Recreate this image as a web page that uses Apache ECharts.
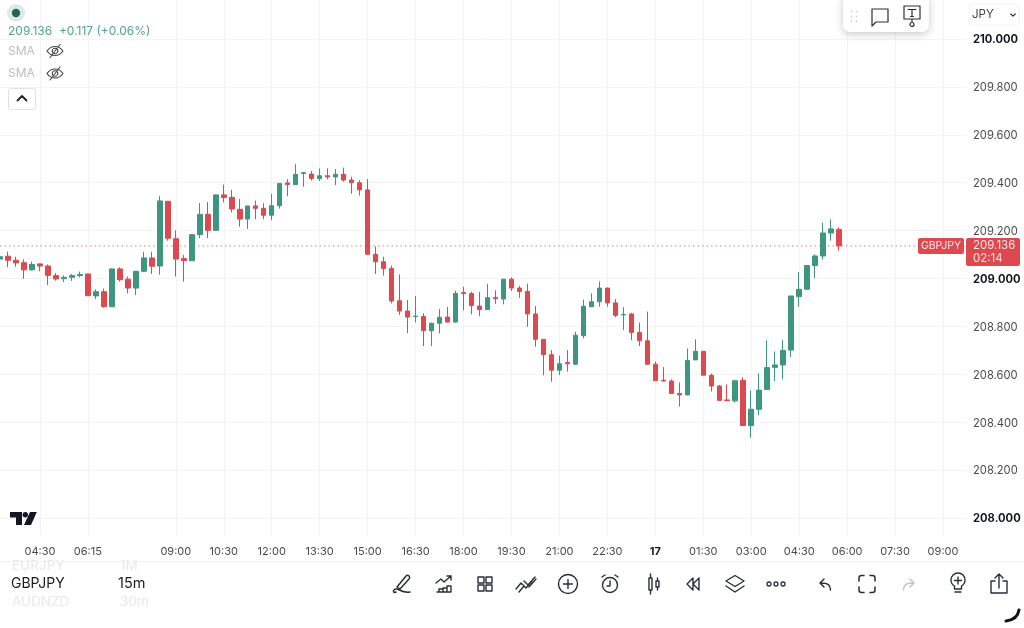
<!DOCTYPE html>
<html><head><meta charset="utf-8">
<style>html,body{margin:0;padding:0;background:#fff}#c{width:1024px;height:628px}</style>
<script src="https://cdn.jsdelivr.net/npm/echarts@6/dist/echarts.min.js"></script>
</head><body><div id="c"></div>
<script>
const categories=["03:15","03:30","03:45","04:00","04:15","04:30","04:45","05:00","05:15","05:30","06:00","06:15","06:30","06:45","07:00","07:15","07:30","07:45","08:00","08:15","08:30","08:45","09:00","09:15","09:30","09:45","10:00","10:15","10:30","10:45","11:00","11:15","11:30","11:45","12:00","12:15","12:30","12:45","13:00","13:15","13:30","13:45","14:00","14:15","14:30","14:45","15:00","15:15","15:30","15:45","16:00","16:15","16:30","16:45","17:00","17:15","17:30","17:45","18:00","18:15","18:30","18:45","19:00","19:15","19:30","19:45","20:00","20:15","20:30","20:45","21:00","21:15","21:30","21:45","22:00","22:15","22:30","22:45","23:00","23:15","23:30","23:45","17","00:15","00:30","00:45","01:00","01:15","01:30","01:45","02:00","02:15","02:30","02:45","03:00","03:15","03:30","03:45","04:00","04:15","04:30","04:45","05:00","05:15","05:30","05:45","06:00","06:15","06:30","06:45","07:00","07:15","07:30","07:45","08:00","08:15","08:30","08:45","09:00","09:15","09:30","09:45"];
const tickIndexes=[5,11,22,28,34,40,46,52,58,64,70,76,82,88,94,100,106,112,118];
const priceTicks=[208,208.2,208.4,208.6,208.8,209,209.2,209.4,209.6,209.8,210];
const majorTicks=[208,209,210];
const lastPrice=209.136;
const opens=[209.081,209.093,209.076,209.066,209.036,209.061,209.052,209.012,208.999,209.005,209.012,
209.019,208.927,208.945,208.882,209.040,208.997,208.960,209.030,209.086,209.052,
209.322,209.166,209.083,209.074,209.183,209.268,209.201,209.349,209.339,209.289,
209.248,209.303,209.293,209.264,209.304,209.399,209.392,209.438,209.436,209.417,
209.429,209.424,209.435,209.411,209.400,209.370,209.101,209.070,209.042,208.907,
208.864,208.841,208.841,208.782,208.813,208.839,208.818,208.941,208.937,208.885,
208.870,208.921,208.914,208.997,208.960,208.946,208.852,208.746,208.682,208.617,
208.649,208.642,208.761,208.882,208.903,208.960,208.898,208.848,208.852,208.775,
208.740,208.642,208.575,208.572,208.520,208.514,208.660,208.696,208.596,208.551,
208.493,208.489,208.575,208.386,208.454,208.536,208.629,208.639,208.701,208.924,
208.955,209.054,209.094,209.190,209.205];
const closes=[209.091,209.076,209.065,209.036,209.059,209.052,209.013,208.998,209.005,209.012,209.017,
208.928,208.945,208.882,209.040,208.995,208.960,209.030,209.086,209.051,209.324,
209.168,209.081,209.074,209.183,209.268,209.201,209.349,209.338,209.290,209.248,
209.303,209.293,209.264,209.304,209.397,209.392,209.434,209.442,209.418,209.429,
209.424,209.435,209.411,209.400,209.370,209.101,209.070,209.042,208.906,208.864,
208.839,208.843,208.782,208.813,208.838,208.818,208.938,208.937,208.887,208.870,
208.920,208.916,208.997,208.960,208.946,208.852,208.746,208.682,208.617,208.644,
208.644,208.763,208.884,208.903,208.960,208.898,208.846,208.850,208.775,208.740,
208.642,208.573,208.572,208.520,208.514,208.658,208.696,208.596,208.551,208.491,
208.490,208.573,208.386,208.454,208.534,208.628,208.639,208.700,208.927,208.955,
209.054,209.094,209.190,209.207,209.136];
const lows=[209.077,209.047,209.049,208.999,209.033,209.030,208.973,208.991,208.985,208.990,209.005,
208.927,208.914,208.878,208.882,208.987,208.938,208.931,209.026,209.019,209.016,
209.158,209.008,208.987,209.074,209.168,209.169,209.201,209.318,209.276,209.216,
209.207,209.248,209.248,209.243,209.292,209.343,209.392,209.383,209.409,209.407,
209.414,209.390,209.404,209.354,209.346,209.101,209.019,209.012,208.896,208.848,
208.772,208.817,208.718,208.718,208.771,208.817,208.816,208.867,208.850,208.843,
208.870,208.894,208.892,208.948,208.919,208.798,208.715,208.596,208.569,208.597,
208.611,208.640,208.750,208.882,208.882,208.882,208.838,208.785,208.743,208.718,
208.639,208.572,208.569,208.518,208.465,208.512,208.660,208.596,208.528,208.490,
208.489,208.482,208.386,208.335,208.429,208.536,208.572,208.579,208.672,208.882,
208.955,209.001,209.080,209.158,209.116];
const highs=[209.094,209.112,209.091,209.080,209.070,209.063,209.059,209.023,209.013,209.019,209.029,
209.019,208.955,208.958,209.042,209.047,209.008,209.031,209.111,209.112,209.344,
209.324,209.201,209.098,209.186,209.315,209.319,209.351,209.392,209.370,209.332,
209.303,209.326,209.314,209.354,209.397,209.415,209.477,209.445,209.449,209.459,
209.460,209.457,209.463,209.425,209.411,209.415,209.133,209.091,209.054,209.017,
208.910,208.927,208.855,208.816,208.873,208.881,208.949,208.965,208.945,208.944,
208.977,208.951,208.997,209.005,208.969,208.978,208.885,208.746,208.701,208.678,
208.701,208.778,208.912,208.938,208.988,208.962,208.914,208.880,208.857,208.816,
208.862,208.653,208.630,208.579,208.566,208.708,208.746,208.697,208.603,208.555,
208.558,208.575,208.587,208.533,208.604,208.742,208.695,208.743,208.927,209.027,
209.056,209.101,209.233,209.247,209.214];
const candles=opens.map((o,i)=>[o,closes[i],lows[i],highs[i]]);

const RED='#dc4a50',GREEN='#3f9680',INK='#2a2e39',F='Inter, "Noto Sans", sans-serif';
const els=[];
const add=e=>{e.z=100;e.silent=true;els.push(e)};
const text=(x,y,t,size,fill,extra)=>add({type:'text',x,y,style:Object.assign({text:t,fontSize:size,fill,fontFamily:F,verticalAlign:'middle',align:'left'},extra||{})});
const rect=(x,y,w,h,r,fill,stroke,extra)=>add({type:'rect',shape:{x,y,width:w,height:h,r},style:Object.assign({fill,stroke:stroke||null,lineWidth:1},extra||{})});
let shapeCount=0;
const pathShape=d=>{const n='icon'+(shapeCount++);echarts.graphic.registerShape(n,echarts.graphic.extendPath(d,{}));return n;};
const icon=(x,y,d,c,w)=>add({type:pathShape(d),x,y,style:{fill:'none',stroke:c||INK,lineWidth:w||1.5,lineCap:'round',lineJoin:'round'}});
const solid=(x,y,d,c)=>add({type:pathShape(d),x,y,style:{fill:c,stroke:null}});

// top-left legend
add({type:'circle',shape:{cx:16,cy:13,r:9},style:{fill:'#dcebe7'}});
add({type:'circle',shape:{cx:16,cy:13,r:4.2},style:{fill:'#256556'}});
text(8,31,'209.136  +0.117 (+0.06%)',12,'#55a290');
text(8,51,'SMA',12,'#bdbdbd');
text(8,73.5,'SMA',12,'#bdbdbd');
const eye='M-8 0C-4 -6 4 -6 8 0C4 6 -4 6 -8 0M-2.8 0A2.8 2.8 0 1 0 2.8 0A2.8 2.8 0 1 0 -2.8 0M5 -6.5L-5 6.5';
icon(55,51,eye,'#444',1.1); icon(55,73.5,eye,'#444',1.1);
rect(8.5,88.5,27,21,2,'#fff','#e2e2e2');
icon(22,98,'M-4.5 2.5L0 -2L4.5 2.5','#222',1.8);

// top toolbar
rect(843,-6,86,38,7,'#fff',null,{shadowBlur:8,shadowColor:'rgba(0,0,0,0.22)',shadowOffsetY:2});
[0,5,10].forEach(dy=>[0,5].forEach(dx=>add({type:'circle',shape:{cx:851.5+dx,cy:11.5+dy,r:0.9},style:{fill:'#d0d0d0'}})));
icon(880,16,'M-8 -7H8V6H-4L-8 10Z',INK,1.2);
icon(912,13,'M-8 -7H8V6H-8ZM-4 -3.5H4M0 -3.5V3.5M-1.5 3.5H1.5M0 6V9M2 11.5A2 2 0 1 1 -2 11.5A2 2 0 1 1 2 11.5',INK,1.2);
rect(969,4,50,21,3,'#fff','#f2f2f2');
text(972,15,'JPY',11.5,'#444');
icon(1013,15,'M-2.2 -1L0 1.2L2.2 -1','#333',1.2);

// last price tags
rect(918,238,46,16,2,RED);
text(941,246,'GBPJPY',10.5,'#ffe4e4',{align:'center'});
rect(966,238,54,28,2,RED);
text(973,246,'209.136',11.5,'#ffe4e4');
text(973,258.5,'02:14',11.5,'#ffe4e4');

// TradingView logo
solid(0,0,'M10 512H22V525H16V517.5H10Z','#131722');
add({type:'circle',shape:{cx:25.3,cy:514.8,r:2.7},style:{fill:'#131722'}});
solid(0,0,'M30 512H36.8L31 525H24Z','#131722');

// bottom strip
text(12,566,'EURJPY',13.5,'#e8e8e8');
text(120,566,'1M',13.5,'#e8e8e8');
add({type:'line',shape:{x1:0,y1:561.5,x2:1024,y2:561.5},style:{stroke:'#f0f0f0',lineWidth:1}});
text(11,584,'GBPJPY',14,'#1c1c1e');
text(118,584,'15m',14.5,'#1c1c1e');
text(12,602,'AUDNZD',13.5,'#e8e8e8');
text(120,602,'30m',13.5,'#e8e8e8');

const Y=584;
icon(403,Y,'M-7 8C-11 10 -10 4 -6 5C-3 6 0 9 7 8M-6 3L3 -8C5 -10 8 -7 6 -5L-3 5Z');
icon(444,Y,'M-7 8H7V2H3V8M3 4H-1V8M-1 5H-5V8M-8 -1L-3 -5L0 -2L7 -8M3 -8H7V-4',INK,1.4);
icon(485,Y,'M-7 -7H-1V-1H-7ZM1 -7H7V-1H1ZM-7 1H-1V7H-7ZM1 1H7V7H1Z',INK,1.4);
icon(526,Y,'M-10 5L-5 -1L0 4L6 -3M-7 8L-2 2M3 3L10 -5M-2 -3L2 1L9 -7',INK,1.4);
icon(568,Y,'M9.5 0A9.5 9.5 0 1 1 -9.5 0A9.5 9.5 0 1 1 9.5 0M-4.5 0H4.5M0 -4.5V4.5',INK,1.4);
icon(610,Y+1,'M7.5 0A7.5 7.5 0 1 1 -7.5 0A7.5 7.5 0 1 1 7.5 0M0 -4V1H-3M-8 -8L-5 -10M8 -8L5 -10',INK,1.4);
icon(652,Y,'M-3 -6H0V6H-3ZM-1.5 -10V-6M-1.5 6V10M4 -3H7V3H4ZM5.5 -6V-3M5.5 3V6',INK,1.4);
icon(693,Y,'M0 -6L-6 0L0 6ZM6 -6L0 0L6 6Z',INK,1.4);
icon(735,Y,'M0 -8.5L9 -3L0 2.5L-9 -3ZM-9 2L0 8L9 2',INK,1.4);
[-7,0,7].forEach(d=>add({type:'circle',shape:{cx:776+d,cy:Y,r:2},style:{fill:'none',stroke:INK,lineWidth:1.3}}));
icon(825,Y,'M5.5 6C5.5 1 3 -1 -4.5 -1M-1 -5L-5 -1L-1 3',INK,1.5);
icon(867,Y,'M-8 -3V-6Q-8 -8.5 -5.5 -8.5H-3M3 -8.5H5.5Q8 -8.5 8 -6V-3M8 3V6Q8 8.5 5.5 8.5H3M-3 8.5H-5.5Q-8 8.5 -8 6V3',INK,1.5);
icon(909,Y,'M-5.5 6C-5.5 1 -3 -1 4.5 -1M1 -5L5 -1L1 3','#c2c2c2',1.5);
icon(958,Y-2,'M7 -2A7 7 0 1 0 -3.5 4V7H3.5V4A7 7 0 0 0 7 -2M0 -5V2M-3.5 -1.5H3.5M-3 10H3',INK,1.4);
icon(999,Y,'M-8 -3H-4M4 -3H8V9H-8V-3M0 4V-9M-4 -6L0 -10L4 -6',INK,1.4);
icon(0,0,'M1006 621C1014 620 1018 616 1019 610','#111',3);

const chart=echarts.init(document.getElementById('c'),null,{renderer:'canvas'});
chart.setOption({
  animation:false,
  backgroundColor:'#fff',
  grid:{left:-1,right:57,top:0,bottom:92},
  xAxis:{type:'category',data:categories,boundaryGap:false,
    axisLine:{show:false},axisTick:{show:false},
    axisLabel:{show:true,margin:10,interval:i=>tickIndexes.includes(i),fontFamily:F,fontSize:11,color:'#4a4a4a',
      formatter:v=>v==='17'?'{b|17}':v,rich:{b:{fontWeight:'bold',fontSize:11,color:'#131722',fontFamily:F}}},
    splitLine:{show:true,interval:i=>tickIndexes.includes(i),lineStyle:{color:'#f3f3f3',width:1}}},
  yAxis:{type:'value',position:'right',scale:true,min:207.9248,max:210.1628,
    axisLine:{show:false},
    axisTick:{show:false,customValues:priceTicks},
    axisLabel:{customValues:priceTicks,margin:6,padding:[2,0,0,0],fontFamily:F,fontSize:11.2,color:'#4a4a4a',
      formatter:v=>{const s=v.toFixed(3);return majorTicks.includes(v)?'{b|'+s+'}':s;},
      rich:{b:{fontWeight:'bold',fontSize:11.2,color:'#131722',fontFamily:F}}},
    splitLine:{show:true,lineStyle:{color:'#f3f3f3',width:1}}},
  series:[
    {type:'line',data:categories.map(()=>lastPrice),symbol:'none',silent:true,z:1,
      lineStyle:{color:'#e8777b',type:[1.5,3],width:1}},
    {type:'candlestick',data:candles,barWidth:5,clip:false,z:2,
      itemStyle:{color:GREEN,color0:RED,borderColor:GREEN,borderColor0:RED,borderWidth:1}}],
  graphic:{elements:els}
});
</script></body></html>
